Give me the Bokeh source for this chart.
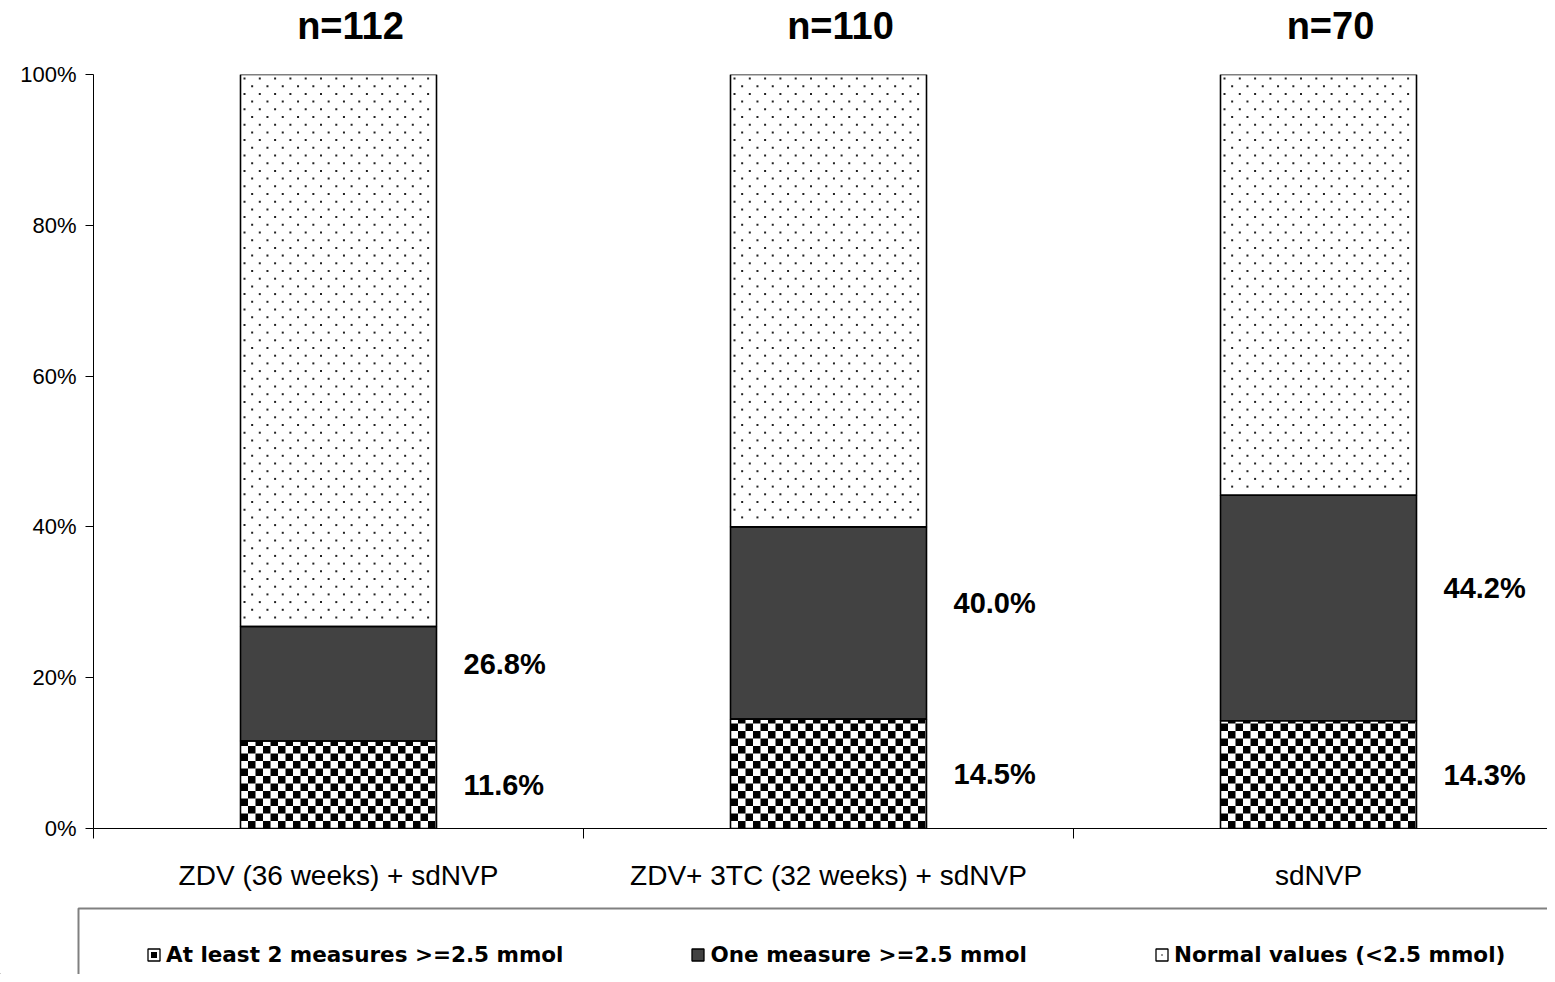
import math
from bokeh.plotting import figure
from bokeh.layouts import column
from bokeh.models import (ColumnDataSource, Range1d, FixedTicker, Legend, LegendItem,
                          LabelSet, BoxAnnotation, LinearAxis)
from bokeh.core.properties import value
from bokeh.embed import file_html
from bokeh.resources import INLINE

# ---------------- data ----------------
categories = ["ZDV (36 weeks) + sdNVP", "ZDV+ 3TC (32 weeks) + sdNVP", "sdNVP"]
n_labels = ["n=112", "n=110", "n=70"]
at_least_two = [11.6, 14.5, 14.3]      # % with at least 2 measures >= 2.5 mmol
at_least_one = [26.8, 40.0, 44.2]      # cumulative % with at least one measure >= 2.5 mmol
y_ticks = [0, 20, 40, 60, 80, 100]
series_names = ["At least 2 measures >=2.5 mmol", "One measure >=2.5 mmol",
                "Normal values (<2.5 mmol)"]

# ---------------- layout constants ----------------
W = 1547
H1, H2 = 900, 74
LEFT, TOP, BOTTOM = 93, 74, 72
CAT_PX = 490.0
BAR_W = 0.4
PX_X = CAT_PX
PX_Y = (H1 - TOP - BOTTOM) / 100.0
MID_COLOR = "#424242"

# ---------------- derived ----------------
ncat = len(categories)
centers = [i + 0.5 for i in range(ncat)]
bounds = [float(i) for i in range(ncat + 1)]
total = [100.0] * ncat

src = ColumnDataSource(dict(
    x=centers,
    x_right=[c + BAR_W / 2 for c in centers],
    b0=[0.0] * ncat, t0=at_least_two,
    b1=at_least_two, t1=at_least_one,
    b2=at_least_one, t2=total,
    mid0=[v / 2 for v in at_least_two],
    mid1=[(a + b) / 2 for a, b in zip(at_least_two, at_least_one)],
    lab0=[f"{v:.1f}%" for v in at_least_two],
    lab1=[f"{v:.1f}%" for v in at_least_one],
))

# checkerboard texture for the bottom segment (derived from bar extents)
SQ = 7.5
ql, qr, qb, qt = [], [], [], []
for c, top in zip(centers, at_least_two):
    left, right = c - BAR_W / 2, c + BAR_W / 2
    ncols = math.ceil(BAR_W * PX_X / SQ)
    nrows = math.ceil(top * PX_Y / SQ)
    for r in range(nrows):
        for k in range(ncols):
            if (r + k) % 2 == 1:
                l = left + k * SQ / PX_X
                b = r * SQ / PX_Y
                ql.append(l); qr.append(min(l + SQ / PX_X, right))
                qb.append(b); qt.append(min(b + SQ / PX_Y, top))

# sparse dot texture for the top segment
DX, DY = 15.3, 7.7
dots_x, dots_y = [], []
for c, bot in zip(centers, at_least_one):
    left = c - BAR_W / 2
    r = 0
    while True:
        yy = 100 - (4 + r * DY) / PX_Y
        if yy <= bot + 2 / PX_Y:
            break
        x0 = 4 + (r % 2) * DX / 2
        m = 0
        while x0 + m * DX < BAR_W * PX_X - 2:
            dots_x.append(left + (x0 + m * DX) / PX_X)
            dots_y.append(yy)
            m += 1
        r += 1

# ---------------- main figure ----------------
p = figure(width=W, height=H1, output_backend="svg", toolbar_location=None,
           x_range=Range1d(0, (W - LEFT) / CAT_PX), y_range=Range1d(0, 100),
           min_border_left=LEFT, min_border_top=TOP, min_border_bottom=BOTTOM,
           min_border_right=0, background_fill_color="white",
           border_fill_color="white")
p.outline_line_color = None
p.xgrid.visible = False
p.ygrid.visible = False

p.vbar(x="x", width=BAR_W, bottom="b0", top="t0", source=src, fill_color="white", line_color=None)
p.vbar(x="x", width=BAR_W, bottom="b1", top="t1", source=src, fill_color=MID_COLOR, line_color=None)
p.vbar(x="x", width=BAR_W, bottom="b2", top="t2", source=src, fill_color="white", line_color=None)
p.quad(left=ql, right=qr, bottom=qb, top=qt, fill_color="black", line_color=None)
p.scatter(dots_x, dots_y, marker="square", size=2, fill_color="#222222", line_color=None)
for b, t in (("b0", "t0"), ("b1", "t1"), ("b2", "t2")):
    p.vbar(x="x", width=BAR_W, bottom=b, top=t, source=src, fill_color=None,
           line_color="black", line_width=1.6)

# y axis
p.yaxis.ticker = FixedTicker(ticks=y_ticks)
p.yaxis.major_label_overrides = {t: f"{t}%" for t in y_ticks}
p.yaxis.major_tick_out = 8
p.yaxis.major_tick_in = 0
p.yaxis.minor_tick_out = 0
p.yaxis.minor_tick_in = 0
p.yaxis.axis_line_color = "black"
p.yaxis.major_tick_line_color = "black"
p.yaxis.major_label_standoff = 9
p.yaxis.major_label_text_font = "Liberation Sans"
p.yaxis.major_label_text_font_size = "22px"
p.yaxis.major_label_text_color = "black"

# x axis: ticks at category boundaries, labels at centres
p.xaxis.ticker = FixedTicker(ticks=centers, minor_ticks=bounds)
p.xaxis.major_label_overrides = {c: lab for c, lab in zip(centers, categories)}
p.xaxis.major_tick_out = 0
p.xaxis.major_tick_in = 0
p.xaxis.minor_tick_out = 10
p.xaxis.minor_tick_in = 0
p.xaxis.minor_tick_line_color = "black"
p.xaxis.axis_line_color = "black"
p.xaxis.major_label_standoff = 21
p.xaxis.major_label_text_font = "Liberation Sans"
p.xaxis.major_label_text_font_size = "28px"
p.xaxis.major_label_text_color = "black"

# n labels as a top axis
n_ticks = [c + 12 / CAT_PX for c in centers]
top_axis = LinearAxis(ticker=FixedTicker(ticks=n_ticks, minor_ticks=[]),
                      major_label_overrides={t: lab for t, lab in zip(n_ticks, n_labels)},
                      axis_line_color=None, major_tick_line_color=None,
                      minor_tick_line_color=None, major_label_standoff=22,
                      major_label_text_font="Liberation Sans",
                      major_label_text_font_style="bold",
                      major_label_text_font_size="38px",
                      major_label_text_color="black")
p.add_layout(top_axis, "above")

# value labels
lab_style = dict(source=src, text_font=value("Liberation Sans"), text_font_style="bold",
                 text_color="black", text_baseline="middle", text_align="left",
                 text_font_size="29px", x_offset=27)
p.add_layout(LabelSet(x="x_right", y="mid1", text="lab1", y_offset=20, **lab_style))
p.add_layout(LabelSet(x="x_right", y="mid0", text="lab0", y_offset=0, **lab_style))

# ---------------- legend figure ----------------
q = figure(width=W, height=H2, output_backend="svg", toolbar_location=None,
           x_range=Range1d(0, W), y_range=Range1d(0, H2),
           x_axis_type=None, y_axis_type=None,
           min_border_left=0, min_border_right=0, min_border_top=0, min_border_bottom=0,
           background_fill_color="white", border_fill_color="white")
q.outline_line_color = None
q.xgrid.visible = False
q.ygrid.visible = False
for fig in (p, q):
    try:
        fig.frame_align = False
    except Exception:
        pass

q.add_layout(BoxAnnotation(left=78, right=W + 100, top=H2 - 8, bottom=-100,
                           fill_alpha=0, fill_color=None,
                           line_color="#808080", line_alpha=1.0, line_width=2))

# legend proxies (kept outside the visible range of the legend strip)
proxy = ColumnDataSource(dict(x=[-1000.0], y=[-1000.0], top=[-999.0]))
g0 = q.vbar(x="x", top="top", width=1, source=proxy, fill_color="white",
            line_color="black", line_width=1.3)
g0b = q.scatter(x="x", y="y", source=proxy, marker="square", size=7,
                fill_color="black", line_color=None)
g1 = q.vbar(x="x", top="top", width=1, source=proxy, fill_color=MID_COLOR,
            line_color="black", line_width=1.3)
g2 = q.vbar(x="x", top="top", width=1, source=proxy, fill_color="white",
            line_color="black", line_width=1.3)
g2b = q.scatter(x="x", y="y", source=proxy, marker="dot", size=8,
                line_color="black", fill_color="black")

legend = Legend(items=[LegendItem(label=series_names[0], renderers=[g0, g0b]),
                       LegendItem(label=series_names[1], renderers=[g1]),
                       LegendItem(label=series_names[2], renderers=[g2, g2b])],
                orientation="horizontal", location=(146, 7),
                border_line_alpha=0, background_fill_alpha=0,
                label_text_font="DejaVu Sans", label_text_font_style="bold",
                label_text_font_size="21.5px", label_text_color="black",
                glyph_width=15, glyph_height=15, label_standoff=5,
                spacing=127, padding=0, margin=0)
q.add_layout(legend, "center")

layout = column(p, q, spacing=0)
open("out.html", "w").write(file_html(layout, INLINE))
